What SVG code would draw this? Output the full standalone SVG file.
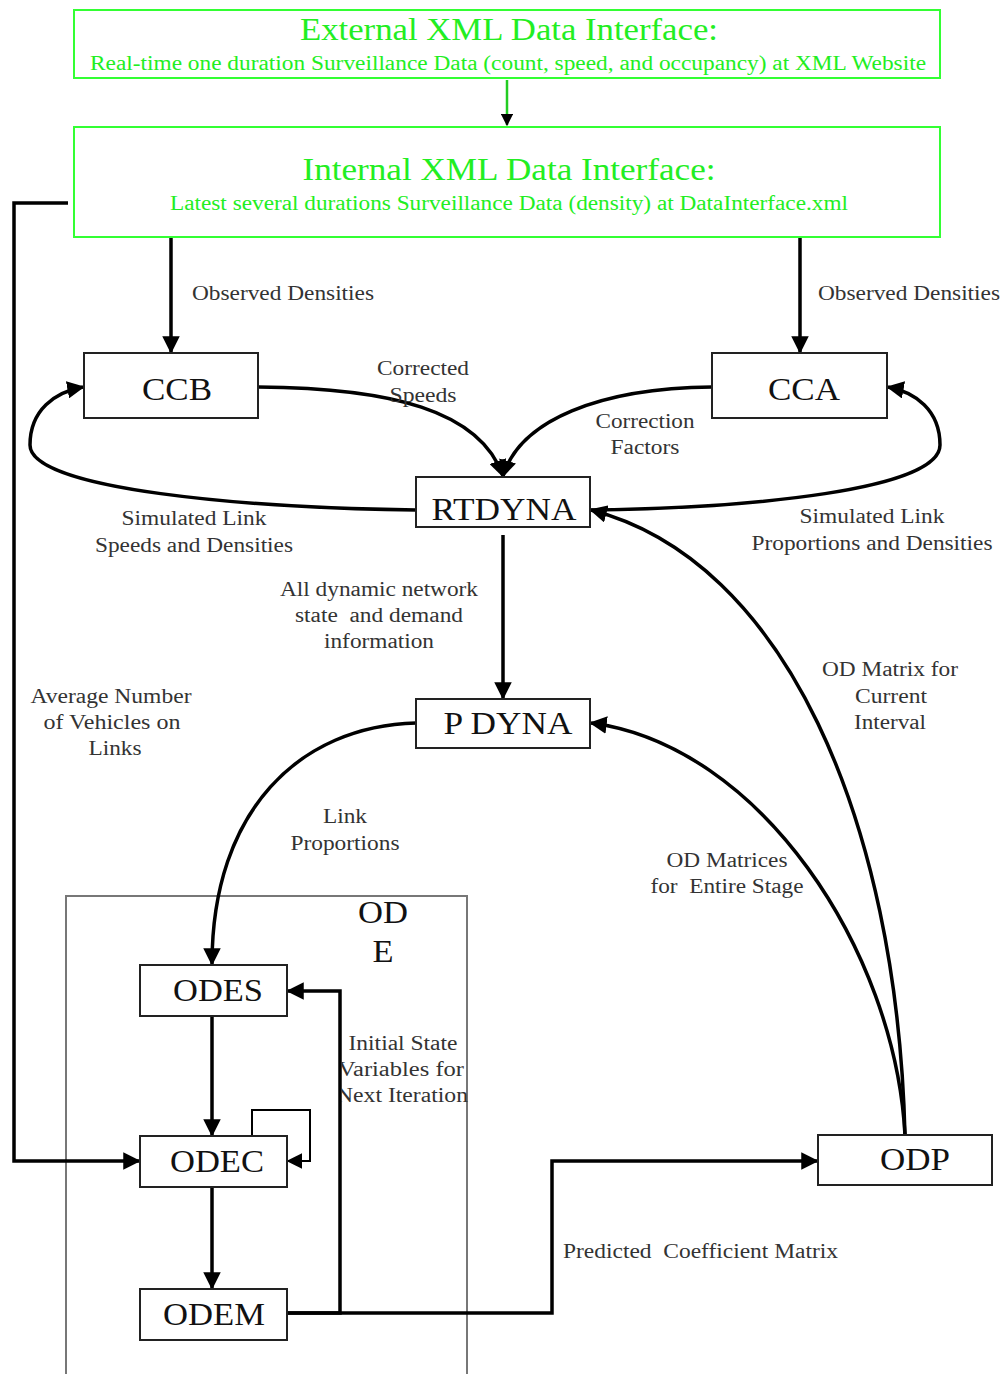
<svg xmlns="http://www.w3.org/2000/svg" width="1006" height="1374" viewBox="0 0 1006 1374">
  <defs>
    <marker id="arrow" viewBox="0 0 10 10" refX="9" refY="5" markerWidth="5" markerHeight="5" orient="auto" markerUnits="strokeWidth">
      <path d="M0,0 L10,5 L0,10 z" fill="#000"/>
    </marker>
    <marker id="arrowThin" viewBox="0 0 10 10" refX="9" refY="5" markerWidth="8" markerHeight="8" orient="auto" markerUnits="strokeWidth">
      <path d="M0,0 L10,5 L0,10 z" fill="#000"/>
    </marker>
    <marker id="arrowGreen" viewBox="0 0 10 10" refX="9" refY="5" markerWidth="5" markerHeight="5" orient="auto" markerUnits="strokeWidth">
      <path d="M0,0 L10,5 L0,10 z" fill="#000"/>
    </marker>
    <clipPath id="iterClip">
      <rect x="341" y="1020" width="200" height="100"/>
    </clipPath>
  </defs>
  <style>
    .xml { fill: #fff; stroke: #33ff33; stroke-width: 2; }
    .xmlText { fill: #22ee22; font-family: "Liberation Serif", "Times New Roman", serif; text-anchor: middle; }
    .node { fill: #fff; stroke: #222; stroke-width: 2; }
    .nodeText { fill: #111; font-family: "Liberation Serif", "Times New Roman", serif; font-size: 31px; text-anchor: middle; }
    .label { fill: #333; font-family: "Liberation Serif", "Times New Roman", serif; font-size: 20px; text-anchor: middle; }
    .labelL { fill: #333; font-family: "Liberation Serif", "Times New Roman", serif; font-size: 20px; }
    .conn { fill: none; stroke: #000; stroke-width: 3.5; marker-end: url(#arrow); }
  </style>

  <rect width="1006" height="1374" fill="#fff"/>

  <!-- ODE container -->
  <g id="ode">
    <rect x="66" y="896" width="401" height="490" fill="none" stroke="#777" stroke-width="2"/>
    <text class="nodeText" x="383" y="923" textLength="50" lengthAdjust="spacingAndGlyphs">OD</text>
    <text class="nodeText" x="383" y="962" textLength="21" lengthAdjust="spacingAndGlyphs">E</text>
  </g>

  <!-- connectors -->
  <g id="connectors">
    <!-- external to internal XML interface -->
    <path d="M507,80 L507,125" fill="none" stroke="#22cc22" stroke-width="2.5" marker-end="url(#arrowGreen)"/>
    <!-- observed densities -->
    <path class="conn" d="M171,237 L171,352"/>
    <path class="conn" d="M800,237 L800,352"/>
    <!-- corrected speeds / correction factors -->
    <path class="conn" d="M258,387 C390,388 480,410 503,476"/>
    <path class="conn" d="M712,387 C600,388 520,420 503,476"/>
    <!-- simulated link feedback -->
    <path class="conn" d="M416,510 C250,508 30,490 30,445 C30,410 55,392 83,387"/>
    <path class="conn" d="M590,510 C750,508 940,490 940,445 C940,410 915,392 888,387"/>
    <!-- RTDYNA to P DYNA -->
    <path class="conn" d="M503,535 L503,698"/>
    <!-- P DYNA to ODES -->
    <path class="conn" d="M416,723 C300,726 212,810 212,964"/>
    <!-- ODP to P DYNA and RTDYNA -->
    <path class="conn" d="M905,1135 C895,950 760,745 591,723"/>
    <path class="conn" d="M905,1135 C897,820 785,560 591,510"/>
    <!-- ODES to ODEC to ODEM -->
    <path class="conn" d="M212,1016 L212,1135"/>
    <path class="conn" d="M212,1187 L212,1288"/>
    <!-- ODEC self loop -->
    <path d="M252,1136 L252,1110 L310,1110 L310,1161 L288,1161" fill="none" stroke="#000" stroke-width="2" marker-end="url(#arrowThin)"/>
    <!-- ODEM back to ODES -->
    <path class="conn" d="M287,1313 L340,1313 L340,991 L288,991"/>
    <!-- ODEM to ODP -->
    <path class="conn" d="M287,1313 L552,1313 L552,1161 L817,1161"/>
    <!-- internal XML to ODEC -->
    <path class="conn" d="M68,203 L14,203 L14,1161 L139,1161"/>
  </g>

  <!-- XML interfaces -->
  <g id="external-xml">
    <rect class="xml" x="74" y="10" width="866" height="68"/>
    <text class="xmlText" x="509" y="40" font-size="31" textLength="418" lengthAdjust="spacingAndGlyphs">External XML Data Interface:</text>
    <text class="xmlText" x="508" y="70" font-size="20" textLength="836" lengthAdjust="spacingAndGlyphs">Real-time one duration Surveillance Data (count, speed, and occupancy) at XML Website</text>
  </g>
  <g id="internal-xml">
    <rect class="xml" x="74" y="127" width="866" height="110"/>
    <text class="xmlText" x="509" y="180" font-size="31" textLength="413" lengthAdjust="spacingAndGlyphs">Internal XML Data Interface:</text>
    <text class="xmlText" x="509" y="210" font-size="20" textLength="678" lengthAdjust="spacingAndGlyphs">Latest several durations Surveillance Data (density) at DataInterface.xml</text>
  </g>

  <!-- process nodes -->
  <g id="ccb">
    <rect class="node" x="84" y="353" width="174" height="65"/>
    <text class="nodeText" x="177" y="400" textLength="70" lengthAdjust="spacingAndGlyphs">CCB</text>
  </g>
  <g id="cca">
    <rect class="node" x="712" y="353" width="175" height="65"/>
    <text class="nodeText" x="804" y="400" textLength="72" lengthAdjust="spacingAndGlyphs">CCA</text>
  </g>
  <g id="rtdyna">
    <rect class="node" x="416" y="477" width="174" height="50"/>
    <text class="nodeText" x="504" y="520" textLength="145" lengthAdjust="spacingAndGlyphs">RTDYNA</text>
  </g>
  <g id="pdyna">
    <rect class="node" x="416" y="699" width="174" height="49"/>
    <text class="nodeText" x="508" y="734" textLength="129" lengthAdjust="spacingAndGlyphs">P DYNA</text>
  </g>
  <g id="odes">
    <rect class="node" x="140" y="965" width="147" height="51"/>
    <text class="nodeText" x="218" y="1001" textLength="90" lengthAdjust="spacingAndGlyphs">ODES</text>
  </g>
  <g id="odec">
    <rect class="node" x="140" y="1136" width="147" height="51"/>
    <text class="nodeText" x="217" y="1172" textLength="94" lengthAdjust="spacingAndGlyphs">ODEC</text>
  </g>
  <g id="odem">
    <rect class="node" x="140" y="1289" width="147" height="51"/>
    <text class="nodeText" x="214" y="1325" textLength="102" lengthAdjust="spacingAndGlyphs">ODEM</text>
  </g>
  <g id="odp">
    <rect class="node" x="818" y="1135" width="174" height="50"/>
    <text class="nodeText" x="915" y="1170" textLength="70" lengthAdjust="spacingAndGlyphs">ODP</text>
  </g>

  <!-- connector labels -->
  <g id="labels">
    <text class="labelL" x="192" y="300" textLength="182" lengthAdjust="spacingAndGlyphs">Observed Densities</text>
    <text class="labelL" x="818" y="300" textLength="182" lengthAdjust="spacingAndGlyphs">Observed Densities</text>
    <text class="label" x="423" y="375" textLength="92" lengthAdjust="spacingAndGlyphs">Corrected</text>
    <text class="label" x="423" y="402" textLength="67" lengthAdjust="spacingAndGlyphs">Speeds</text>
    <text class="label" x="645" y="428" textLength="99" lengthAdjust="spacingAndGlyphs">Correction</text>
    <text class="label" x="645" y="454" textLength="69" lengthAdjust="spacingAndGlyphs">Factors</text>
    <text class="label" x="194" y="525" textLength="145" lengthAdjust="spacingAndGlyphs">Simulated Link</text>
    <text class="label" x="194" y="552" textLength="198" lengthAdjust="spacingAndGlyphs">Speeds and Densities</text>
    <text class="label" x="872" y="523" textLength="145" lengthAdjust="spacingAndGlyphs">Simulated Link</text>
    <text class="label" x="872" y="550" textLength="241" lengthAdjust="spacingAndGlyphs">Proportions and Densities</text>
    <text class="label" x="379" y="596" textLength="198" lengthAdjust="spacingAndGlyphs">All dynamic network</text>
    <text class="label" x="379" y="622" textLength="168" lengthAdjust="spacingAndGlyphs" xml:space="preserve">state  and demand</text>
    <text class="label" x="379" y="648" textLength="110" lengthAdjust="spacingAndGlyphs">information</text>
    <text class="label" x="111" y="703" textLength="161" lengthAdjust="spacingAndGlyphs">Average Number</text>
    <text class="label" x="112" y="729" textLength="137" lengthAdjust="spacingAndGlyphs">of Vehicles on</text>
    <text class="label" x="115" y="755" textLength="53" lengthAdjust="spacingAndGlyphs">Links</text>
    <text class="label" x="890" y="676" textLength="136" lengthAdjust="spacingAndGlyphs">OD Matrix for</text>
    <text class="label" x="891" y="703" textLength="72" lengthAdjust="spacingAndGlyphs">Current</text>
    <text class="label" x="890" y="729" textLength="72" lengthAdjust="spacingAndGlyphs">Interval</text>
    <text class="label" x="345" y="823" textLength="44" lengthAdjust="spacingAndGlyphs">Link</text>
    <text class="label" x="345" y="850" textLength="109" lengthAdjust="spacingAndGlyphs">Proportions</text>
    <text class="label" x="727" y="867" textLength="121" lengthAdjust="spacingAndGlyphs">OD Matrices</text>
    <text class="label" x="727" y="893" textLength="153" lengthAdjust="spacingAndGlyphs" xml:space="preserve">for  Entire Stage</text>
    <g clip-path="url(#iterClip)">
      <text class="label" x="403" y="1050" textLength="109" lengthAdjust="spacingAndGlyphs">Initial State</text>
      <text class="label" x="401" y="1076" textLength="126" lengthAdjust="spacingAndGlyphs">Variables for</text>
      <text class="label" x="402" y="1102" textLength="132" lengthAdjust="spacingAndGlyphs">Next Iteration</text>
    </g>
    <text class="labelL" x="563" y="1258" textLength="275" lengthAdjust="spacingAndGlyphs" xml:space="preserve">Predicted  Coefficient Matrix</text>
  </g>
</svg>
